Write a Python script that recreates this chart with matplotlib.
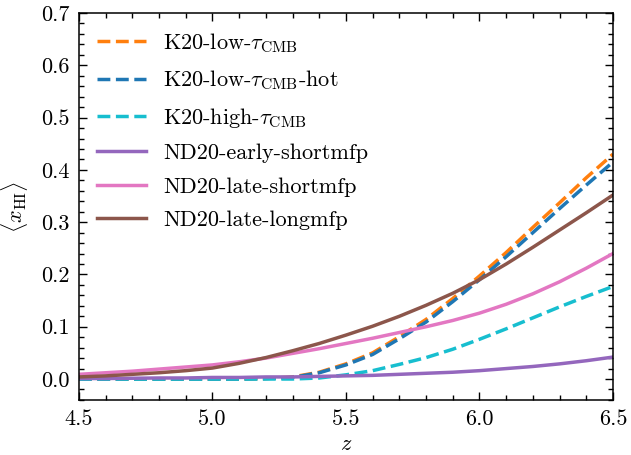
import matplotlib
matplotlib.use("Agg")
import matplotlib.pyplot as plt
from matplotlib.ticker import MultipleLocator

plt.rcParams['font.family'] = 'cmr10'
plt.rcParams['mathtext.fontset'] = 'cm'
plt.rcParams['axes.formatter.use_mathtext'] = True

z = [4.5, 4.6, 4.7, 4.8, 4.9, 5.0, 5.1, 5.2, 5.3, 5.4, 5.5,
     5.6, 5.7, 5.8, 5.9, 6.0, 6.1, 6.2, 6.3, 6.4, 6.5]

k20_low = [0.0, 0.0, 0.0, 0.0, 0.0, 0.0, 0.0, 0.001, 0.004, 0.013, 0.029,
           0.050, 0.081, 0.114, 0.154, 0.197, 0.242, 0.290, 0.337, 0.385, 0.430]
k20_low_hot = [0.0, 0.0, 0.0, 0.0, 0.0, 0.0, 0.0, 0.001, 0.003, 0.012, 0.027,
               0.047, 0.077, 0.109, 0.148, 0.190, 0.234, 0.280, 0.326, 0.371, 0.415]
k20_high = [0.0, 0.0, 0.0, 0.0, 0.0, 0.0, 0.0, 0.0, 0.0, 0.002, 0.008,
            0.016, 0.028, 0.041, 0.057, 0.076, 0.096, 0.117, 0.138, 0.158, 0.177]
nd20_early_short = [0.001, 0.001, 0.0015, 0.002, 0.002, 0.003, 0.003, 0.004, 0.004, 0.005, 0.006,
                    0.007, 0.009, 0.011, 0.013, 0.016, 0.020, 0.024, 0.029, 0.035, 0.042]
nd20_late_short = [0.009, 0.012, 0.015, 0.019, 0.023, 0.027, 0.033, 0.040, 0.049, 0.058, 0.068,
                   0.078, 0.089, 0.100, 0.112, 0.126, 0.143, 0.163, 0.186, 0.212, 0.240]
nd20_late_long = [0.004, 0.006, 0.009, 0.012, 0.016, 0.021, 0.030, 0.041, 0.054, 0.068, 0.084,
                  0.101, 0.120, 0.141, 0.164, 0.190, 0.220, 0.252, 0.285, 0.318, 0.352]

series = [
    (k20_low, r'K20-low-$\tau_{\rm CMB}$', '#ff7f0e', '--'),
    (k20_low_hot, r'K20-low-$\tau_{\rm CMB}$-hot', '#1f77b4', '--'),
    (k20_high, r'K20-high-$\tau_{\rm CMB}$', '#17becf', '--'),
    (nd20_early_short, 'ND20-early-shortmfp', '#9467bd', '-'),
    (nd20_late_short, 'ND20-late-shortmfp', '#e377c2', '-'),
    (nd20_late_long, 'ND20-late-longmfp', '#8c564b', '-'),
]

fig = plt.figure(figsize=(6.31, 4.55), dpi=100)
ax = fig.add_axes([0.125, 0.121, 0.8465, 0.8504])

for vals, lab, col, ls in series:
    ax.plot(z, vals, ls, color=col, lw=2.5, label=lab)

ax.set_xlim(4.5, 6.5)
ax.set_ylim(-0.04, 0.7)
ax.xaxis.set_major_locator(MultipleLocator(0.5))
ax.xaxis.set_minor_locator(MultipleLocator(0.1))
ax.yaxis.set_major_locator(MultipleLocator(0.1))
ax.yaxis.set_minor_locator(MultipleLocator(0.02))
ax.xaxis.set_major_formatter(plt.FormatStrFormatter('%.1f'))
ax.yaxis.set_major_formatter(plt.FormatStrFormatter('%.1f'))
ax.tick_params(which='both', direction='in', top=True, right=True, labelsize=16, width=1)
ax.tick_params(which='major', length=6, pad=7)
ax.tick_params(which='minor', length=3.5)
for s in ax.spines.values():
    s.set_linewidth(1.1)

ax.set_xlabel(r'$z$', fontsize=16)
ax.set_ylabel(r'$\langle x_{\rm HI}\rangle$', fontsize=16, labelpad=8)

ax.legend(loc='upper left', frameon=False, fontsize=16, handlelength=2.2,
          labelspacing=0.62, borderaxespad=0.4)

fig.savefig('out.png', dpi=100)
